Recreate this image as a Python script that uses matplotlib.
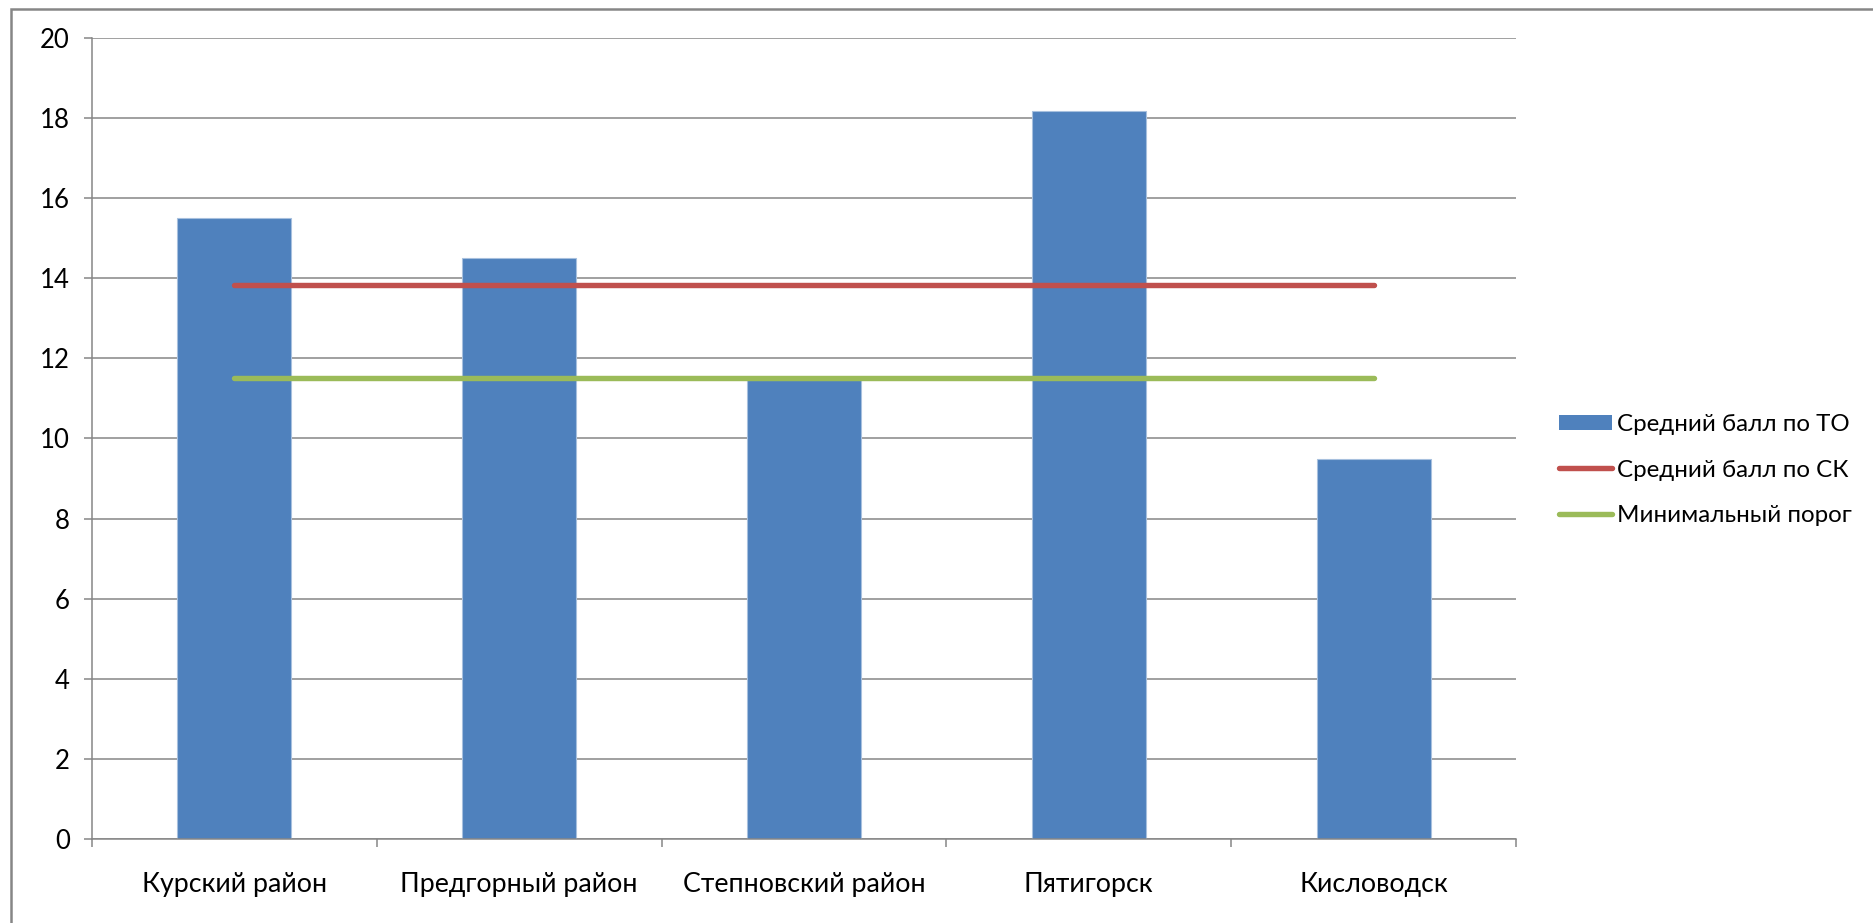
import matplotlib
matplotlib.use("Agg")
import matplotlib.pyplot as plt
from matplotlib.patches import Rectangle, Patch
from matplotlib.lines import Line2D
import numpy as np

categories = ["Курский район", "Предгорный район", "Степновский район", "Пятигорск", "Кисловодск"]
avg_to = [15.5, 14.5, 11.45, 18.17, 9.5]
avg_sk = [13.83, 13.83, 13.83, 13.83, 13.83]
min_threshold = [11.5, 11.5, 11.5, 11.5, 11.5]
yticks = [0, 2, 4, 6, 8, 10, 12, 14, 16, 18, 20]

label_to = "Средний балл по ТО"
label_sk = "Средний балл по СК"
label_min = "Минимальный порог"

plt.rcParams['font.family'] = ['Lato', 'DejaVu Sans']

W, H = 1874, 923
fig = plt.figure(figsize=(W / 100, H / 100), dpi=100)
fig.patch.set_facecolor("white")

grey = "#868686"
ax = fig.add_axes([92 / W, 1 - 839 / H, (1516 - 92) / W, (839 - 38) / H])

x = np.arange(len(categories))
ax.bar(x, avg_to, width=0.4, color="#4f81bd", edgecolor="#a7c0de", linewidth=0.8, zorder=2)
ax.plot(x, avg_sk, color="#c0504d", lw=3.9, solid_capstyle="round", zorder=3)
ax.plot(x, min_threshold, color="#9bbb59", lw=3.9, solid_capstyle="round", zorder=3)

ax.set_xlim(-0.5, len(categories) - 0.5)
ax.set_ylim(0, 20)
ax.set_yticks(yticks)
ax.set_yticklabels([str(v) for v in yticks])
ax.yaxis.grid(True, color=grey, lw=1.1, zorder=0)
ax.set_axisbelow(True)

ax.set_xticks(x)
ax.set_xticklabels(categories)
ax.set_xticks(np.arange(-0.5, len(categories)), minor=True)
ax.tick_params(axis="x", which="major", length=0, pad=24, labelsize=19.3)
ax.tick_params(axis="x", which="minor", length=6, width=1.1, color=grey, direction="out")
ax.tick_params(axis="y", length=6, width=1.1, color=grey, direction="out", pad=10, labelsize=18.5)

for s in ["top", "right"]:
    ax.spines[s].set_visible(False)
for s in ["left", "bottom"]:
    ax.spines[s].set_color(grey)
    ax.spines[s].set_linewidth(1.1)

handles = [
    Patch(facecolor="#4f81bd", edgecolor="none"),
    Line2D([0], [0], color="#c0504d", lw=3.9, solid_capstyle="round"),
    Line2D([0], [0], color="#9bbb59", lw=3.9, solid_capstyle="round"),
]
fig.legend(handles, [label_to, label_sk, label_min], loc="center left",
           bbox_to_anchor=(1559 / W, 1 - 470 / H), frameon=False, fontsize=17.4,
           handlelength=2.2, handleheight=0.6, handletextpad=0.2, labelspacing=1.0,
           borderpad=0, borderaxespad=0)

fig.patches.append(Rectangle((11 / W, -0.5), 2, 0.5 + (1 - 9 / H), transform=fig.transFigure,
                             fill=False, edgecolor=grey, lw=1.8))

fig.savefig("out.png", dpi=100, facecolor="white")
